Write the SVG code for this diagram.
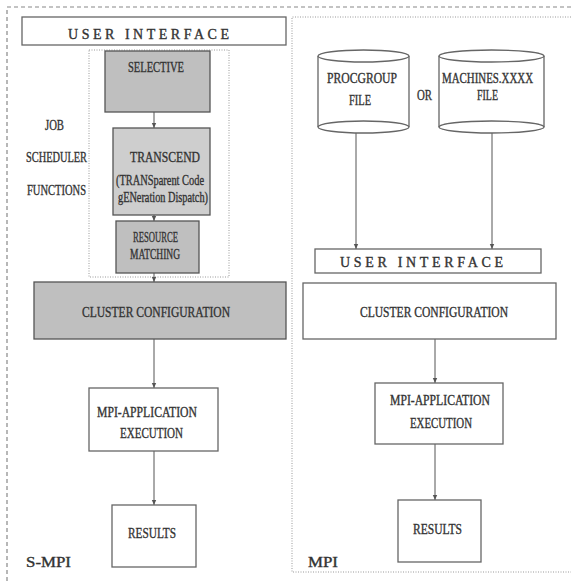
<svg xmlns="http://www.w3.org/2000/svg" width="571" height="581" viewBox="0 0 571 581">
<defs>
<style>
.t{font-family:"Liberation Serif","Times New Roman",serif;fill:#333;stroke:#333;stroke-width:0.35;text-anchor:middle;font-size:14px}
.box{fill:#fff;stroke:#666;stroke-width:1.3}
.gray{fill:#bfbfbf;stroke:#555;stroke-width:1.3}
.lt{fill:#cecece;stroke:#555;stroke-width:1.3}
.conn{stroke:#555;stroke-width:1;fill:none;marker-end:url(#ah)}
.dash{fill:none;stroke:#888;stroke-width:1.2;stroke-dasharray:4 3}
.dot{fill:none;stroke:#999;stroke-width:1;stroke-dasharray:1 1.5}
</style>
<marker id="ah" markerWidth="6" markerHeight="6" refX="5" refY="3" orient="auto" markerUnits="userSpaceOnUse">
<path d="M0,0.8 L5,3 L0,5.2 Z" fill="#555"/>
</marker>
</defs>
<rect width="571" height="581" fill="#fff"/>
<g id="frames">
<path class="dash" d="M7,581 L7,7 L571,7"/>
<path class="dot" d="M571,17 L292,17 L292,572 L571,572"/>
<rect class="dot" x="89" y="50" width="140" height="227"/>
</g>
<g id="connectors">
<line class="conn" x1="154" y1="112" x2="154" y2="128"/>
<line class="conn" x1="154" y1="215" x2="154" y2="221"/>
<line class="conn" x1="154" y1="273" x2="154" y2="282"/>
<line class="conn" x1="154" y1="339" x2="154" y2="388"/>
<line class="conn" x1="154" y1="451" x2="154" y2="505"/>
<line class="conn" x1="356" y1="133" x2="356" y2="249"/>
<line class="conn" x1="492" y1="133" x2="492" y2="249"/>
<line class="conn" x1="435" y1="339" x2="435" y2="383"/>
<line class="conn" x1="435" y1="444" x2="435" y2="500"/>
</g>
<g id="ui-left">
<rect class="box" x="22" y="17" width="264" height="28"/>
<text class="t" x="148.5" y="39" font-size="16" textLength="161" lengthAdjust="spacing">USER INTERFACE</text>
</g>
<g id="selective">
<rect class="gray" x="105" y="51" width="105" height="61"/>
<text class="t" x="156" y="72" textLength="56" lengthAdjust="spacingAndGlyphs">SELECTIVE</text>
</g>
<g id="transcend">
<rect class="lt" x="113" y="128" width="97" height="87"/>
<text class="t" x="165" y="162" font-size="17" textLength="70" lengthAdjust="spacingAndGlyphs">TRANSCEND</text>
<text class="t" x="160" y="185" textLength="88" lengthAdjust="spacingAndGlyphs">(TRANSparent Code</text>
<text class="t" x="163" y="202" textLength="90" lengthAdjust="spacingAndGlyphs">gENeration Dispatch)</text>
</g>
<g id="resource-matching">
<rect class="gray" x="116" y="221" width="83" height="52"/>
<text class="t" x="155.5" y="242" font-size="12" textLength="45" lengthAdjust="spacingAndGlyphs">RESOURCE</text>
<text class="t" x="155" y="259" font-size="12" textLength="50" lengthAdjust="spacingAndGlyphs">MATCHING</text>
</g>
<g id="job-label">
<text class="t" x="54.5" y="130" textLength="19" lengthAdjust="spacingAndGlyphs">JOB</text>
<text class="t" x="56.5" y="162" textLength="61" lengthAdjust="spacingAndGlyphs">SCHEDULER</text>
<text class="t" x="56.5" y="195" textLength="59" lengthAdjust="spacingAndGlyphs">FUNCTIONS</text>
</g>
<g id="cluster-left">
<rect class="gray" x="34" y="282" width="252" height="57"/>
<text class="t" x="156" y="317" textLength="148" lengthAdjust="spacingAndGlyphs">CLUSTER CONFIGURATION</text>
</g>
<g id="mpiapp-left">
<rect class="box" x="89" y="388" width="129" height="63"/>
<text class="t" x="147" y="417" textLength="100" lengthAdjust="spacingAndGlyphs">MPI-APPLICATION</text>
<text class="t" x="151.5" y="438" textLength="63" lengthAdjust="spacingAndGlyphs">EXECUTION</text>
</g>
<g id="results-left">
<rect class="box" x="112" y="505" width="84" height="62"/>
<text class="t" x="152" y="538" textLength="48" lengthAdjust="spacingAndGlyphs">RESULTS</text>
</g>
<g id="smpi-label">
<text class="t" x="48.5" y="567" font-size="22" textLength="45" lengthAdjust="spacingAndGlyphs">S-MPI</text>
</g>
<g id="procgroup">
<path class="box" d="M318,56 L318,127 A45.5,6 0 0 0 409,127 L409,56"/>
<ellipse class="box" cx="363.5" cy="56" rx="45.5" ry="6"/>
<path fill="none" stroke="#666" stroke-width="1.3" d="M318,127 A45.5,6 0 0 1 409,127"/>
<text class="t" x="362" y="83" textLength="70" lengthAdjust="spacingAndGlyphs">PROCGROUP</text>
<text class="t" x="360" y="105" textLength="22" lengthAdjust="spacingAndGlyphs">FILE</text>
</g>
<g id="or-label">
<text class="t" x="424.5" y="100" textLength="15" lengthAdjust="spacingAndGlyphs">OR</text>
</g>
<g id="machines">
<path class="box" d="M439,56 L439,127 A52.5,6 0 0 0 544,127 L544,56"/>
<ellipse class="box" cx="491.5" cy="56" rx="52.5" ry="6"/>
<path fill="none" stroke="#666" stroke-width="1.3" d="M439,127 A52.5,6 0 0 1 544,127"/>
<text class="t" x="487.5" y="83" textLength="91" lengthAdjust="spacingAndGlyphs">MACHINES.XXXX</text>
<text class="t" x="487.5" y="100" textLength="21" lengthAdjust="spacingAndGlyphs">FILE</text>
</g>
<g id="ui-right">
<rect class="box" x="315" y="249" width="226" height="24"/>
<text class="t" x="421.5" y="267" font-size="16" textLength="163" lengthAdjust="spacing">USER INTERFACE</text>
</g>
<g id="cluster-right">
<rect class="box" x="303" y="283" width="253" height="56"/>
<text class="t" x="434" y="317" textLength="148" lengthAdjust="spacingAndGlyphs">CLUSTER CONFIGURATION</text>
</g>
<g id="mpiapp-right">
<rect class="box" x="375" y="383" width="128" height="61"/>
<text class="t" x="440" y="405" textLength="100" lengthAdjust="spacingAndGlyphs">MPI-APPLICATION</text>
<text class="t" x="441" y="428" textLength="62" lengthAdjust="spacingAndGlyphs">EXECUTION</text>
</g>
<g id="results-right">
<rect class="box" x="398" y="500" width="83" height="62"/>
<text class="t" x="437.5" y="534" textLength="49" lengthAdjust="spacingAndGlyphs">RESULTS</text>
</g>
<g id="mpi-label">
<text class="t" x="323" y="567" font-size="22" textLength="30" lengthAdjust="spacingAndGlyphs">MPI</text>
</g>
</svg>
